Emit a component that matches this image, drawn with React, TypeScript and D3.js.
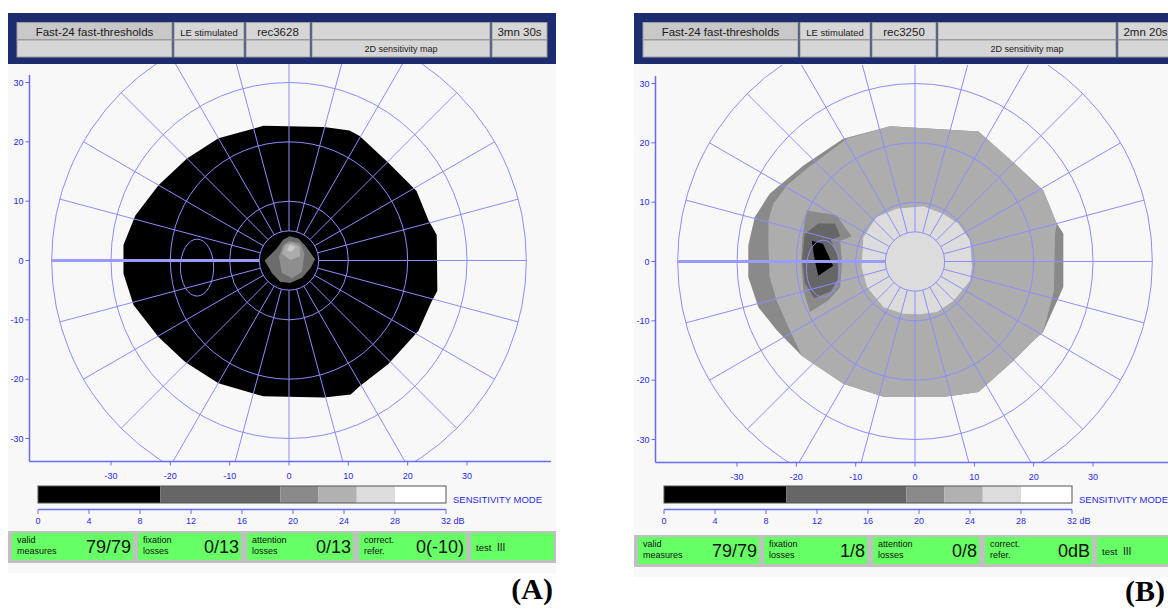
import React from 'react';
import * as d3 from 'd3';

const W = 1168;
const H = 609;

// grid / axes
const gridRadii = [5, 10, 20, 30, 40];
const axisTicks = [-30, -20, -10, 0, 10, 20, 30];
const dbTicks = [0, 4, 8, 12, 16, 20, 24, 28, 32];
const bandEdges = [0, 9.6, 19, 22, 25, 28, 32];
const bandColors = ['#000000', '#666666', '#8a8a8a', '#b1b1b1', '#dcdcdc', '#ffffff'];

// header + stats texts
const headerA = ['Fast-24 fast-thresholds', 'LE stimulated', 'rec3628', '', '3mn 30s'];
const headerB = ['Fast-24 fast-thresholds', 'LE stimulated', 'rec3250', '', '2mn 20s'];
const mapTitle = '2D sensitivity map';
const statLabels = [['valid', 'measures'], ['fixation', 'losses'], ['attention', 'losses'], ['correct.', 'refer.']];
const statsA = ['79/79', '0/13', '0/13', '0(-10)'];
const statsB = ['79/79', '1/8', '0/8', '0dB'];
const testSize = 'III';

// blind spot ellipse (deg)
const blindSpot = { cx: -15.5, cy: -1.2, rx: 2.8, ry: 4.8 };

// map A contours (deg)
const aBlack = [[-4.3, 22.7], [5.9, 22.5], [10.2, 21.9], [11.9, 21.0], [16.7, 16.5], [21.5, 11.7], [23.5, 6.8], [24.9, 4.3], [25.0, -5.1], [24.0, -7.0], [21.8, -11.9], [16.7, -17.5], [11.9, -21.2], [10.4, -22.6], [5.9, -23.1], [-4.3, -22.9], [-11.9, -20.7], [-17.5, -17.1], [-22.0, -12.9], [-26.2, -7.5], [-27.9, -2.2], [-27.9, 2.6], [-25.9, 7.6], [-22.0, 12.7], [-17.2, 17.2], [-11.9, 20.6]];
const aBlob1 = [[-4.1, 0], [-2.1, 2.0], [-1.0, 3.5], [0.1, 4.1], [1.6, 3.7], [2.9, 2.3], [4.4, 0.2], [3.6, -1.3], [2.2, -2.9], [0.2, -3.8], [-1.5, -3.6], [-2.9, -2.1]];
const aBlob2 = [[-1.7, 0.6], [-1.0, 2.6], [0.1, 3.3], [1.9, 2.9], [2.6, 1.2], [2.2, -1.9], [0.5, -3.0], [-1.2, -2.1]];
const aBlob3 = [[-1.2, 1.2], [-0.6, 2.6], [0.5, 3.0], [1.8, 2.3], [1.9, 0.7], [0.2, 0.1]];
const aBlob4 = [[-0.4, 1.7], [0.1, 2.6], [1.1, 2.3], [0.5, 1.5]];

// map B contours (deg)
const bOuter = [[-4.2, 22.8], [10.7, 21.9], [16.6, 16.7], [21.6, 12.0], [23.9, 6.4], [25.0, 4.7], [25.0, -4.3], [21.6, -11.9], [20, -13.3], [16.3, -17], [10.7, -22.0], [5, -22.8], [-5.3, -22.8], [-12.1, -20.6], [-19.1, -15.9], [-23.3, -11.6], [-26.4, -7.7], [-28.1, -2.6], [-28.1, 2.7], [-27.0, 7.5], [-24.5, 11.4], [-18.8, 16.2], [-12.1, 20.7]];
const bMain = [[-11.5, 20.7], [-4.2, 22.8], [10.7, 21.9], [16.6, 16.7], [21.6, 12.0], [23.9, 6.4], [23.6, 4.5], [23.4, -5.0], [21.6, -11.9], [20, -13.3], [16.3, -17], [10.7, -22.0], [5, -22.8], [-5.3, -22.8], [-12.1, -20.6], [-19.1, -15.9], [-21.6, -10.5], [-23.3, -6.6], [-24.5, -2.6], [-24.7, 2.4], [-24.7, 6.9], [-23.9, 9.7], [-21.6, 12.8], [-18.3, 15.6]];
const bCenter = [[-3.1, 8.9], [1.4, 9.3], [4.8, 8.0], [7.3, 6.4], [9.3, 3.5], [9.6, -1.0], [9.3, -3.2], [6.5, -6.6], [3.7, -8.5], [0.8, -8.9], [-2.0, -8.8], [-5.3, -7.7], [-8.1, -4.3], [-9.0, -1.0], [-8.7, 4.1], [-6.5, 7.5]];
const bBlind1 = [[-18.3, 8.6], [-13.2, 7.8], [-10.7, 4.2], [-12.6, 3.5], [-12.3, 0], [-12.6, -4.3], [-14.5, -6.5], [-17.7, -8.5], [-18.8, -5], [-19.2, 0], [-19, 4]];
const bBlind2 = [[-18.6, 4.6], [-16.3, 6.4], [-13.5, 6.4], [-12.6, 4.3], [-14.2, 3.6], [-13.0, 1.0], [-13.0, -3.0], [-14.2, -5.0], [-17.0, -6.2], [-18.6, -3.5], [-19.0, 0.5]];
const bBlack = [[-17.4, 3.5], [-15.5, 3.0], [-13.8, -0.7], [-16.3, -2.4], [-16.9, 0.2]];

const mapA = [
  { pts: aBlack, fill: bandColors[0] },
  { pts: aBlob1, fill: '#6c6c6c' },
  { pts: aBlob2, fill: '#8e8e8e' },
  { pts: aBlob3, fill: '#ababab' },
  { pts: aBlob4, fill: '#c9c9c9' },
];
const mapB = [
  { pts: bOuter, fill: bandColors[2] },
  { pts: bMain, fill: '#adadad' },
  { pts: bCenter, fill: bandColors[4] },
  { pts: bBlind1, fill: bandColors[2] },
  { pts: bBlind2, fill: bandColors[1] },
  { pts: bBlack, fill: bandColors[0] },
];

const GRID = '#8c8cff';
const AXIS = '#6a6af0';
const TXT = '#2a2ae6';
const SANS = 'Liberation Sans, Arial, sans-serif';

const headCols = [[17, 172], [174, 244], [246, 310], [312, 490], [492, 547]];
const statCols = [[12, 133], [138, 241], [247, 353], [359, 466], [471, 554]];

function Panel({ id, dx, dy, by, header, stats, map, label, labelX, labelY }) {
  const x = d3.scaleLinear().domain([-30, 30]).range([111 + dx, 467 + dx]);
  const y = d3.scaleLinear().domain([-30, 30]).range([438.5 + dy, 82.5 + dy]);
  const k = x(1) - x(0);
  const cx = x(0);
  const cy = y(0);
  const pol = (r, a) => [cx + k * r * Math.cos((a * Math.PI) / 180), cy - k * r * Math.sin((a * Math.PI) / 180)];
  const area = d3.line().x(d => x(d[0])).y(d => y(d[1])).curve(d3.curveLinearClosed);
  const db = d3.scaleLinear().domain([0, 32]).range([38 + dx, 446 + dx]);

  const spokes = d3.range(0, 360, 15).filter(a => a !== 180);
  const axisY = 461.5 + dy;
  const axisX = 29.5 + dx;

  return (
    <g>
      <defs>
        <clipPath id={`clip-${id}`}>
          <rect x={axisX + 0.5} y={64 + dy} width={522} height={axisY - 64 - dy} />
        </clipPath>
      </defs>
      {/* panel background */}
      <rect x={8 + dx} y={13} width={548} height={560 + by} fill="#f8f8f8" />
      {/* header */}
      <rect x={8 + dx} y={13} width={548} height={51} fill="#1c2c6e" />
      {[0, 1].map(row =>
        headCols.map((c, i) => (
          <rect
            key={`h${row}-${i}`}
            x={c[0] + dx}
            y={row ? 40 : 22.5}
            width={c[1] - c[0]}
            height={17}
            fill={row === 0 && i === 0 ? '#c8c8c8' : '#d6d6d6'}
            stroke="#9c9c9c"
          />
        ))
      )}
      {header.map((t, i) => (
        <text
          key={`ht${i}`}
          x={(headCols[i][0] + headCols[i][1]) / 2 + dx}
          y={35.5}
          textAnchor="middle"
          fontFamily={SANS}
          fontSize={i === 1 ? 9.5 : 11.5}
          fill="#1a1a1a"
        >
          {t}
        </text>
      ))}
      <text x={(headCols[3][0] + headCols[3][1]) / 2 + dx} y={52} textAnchor="middle" fontFamily={SANS} fontSize={9} fill="#1a1a1a">
        {mapTitle}
      </text>

      {/* sensitivity map */}
      <g clipPath={`url(#clip-${id})`}>
        {map.map((m, i) => (
          <path key={`m${i}`} d={area(m.pts)} fill={m.fill} />
        ))}
        {gridRadii.map(r => (
          <circle key={`c${r}`} cx={cx} cy={cy} r={k * r} fill="none" stroke={GRID} strokeWidth={1} />
        ))}
        {spokes.map(a => {
          const p0 = pol(5, a);
          const p1 = pol(40, a);
          return <line key={`s${a}`} x1={p0[0]} y1={p0[1]} x2={p1[0]} y2={p1[1]} stroke={GRID} strokeWidth={1} />;
        })}
        <line x1={pol(40, 180)[0]} y1={cy} x2={pol(5, 180)[0]} y2={cy} stroke="#9a9aff" strokeWidth={3} />
        <ellipse
          cx={x(blindSpot.cx)}
          cy={y(blindSpot.cy)}
          rx={k * blindSpot.rx}
          ry={k * blindSpot.ry}
          fill="none"
          stroke={GRID}
          strokeWidth={1}
        />
      </g>

      {/* axes */}
      <line x1={axisX} y1={75 + dy} x2={axisX} y2={axisY} stroke={AXIS} strokeWidth={1.5} />
      <line x1={axisX} y1={axisY} x2={551 + dx} y2={axisY} stroke={AXIS} strokeWidth={1.5} />
      {axisTicks.map(t => (
        <g key={`yt${t}`}>
          <line x1={axisX - 4} x2={axisX} y1={y(t)} y2={y(t)} stroke={AXIS} />
          <text x={axisX - 6} y={y(t) + 3} textAnchor="end" fontFamily={SANS} fontSize={9} fill={TXT}>
            {t}
          </text>
        </g>
      ))}
      {axisTicks.map(t => (
        <g key={`xt${t}`}>
          <line x1={x(t)} x2={x(t)} y1={axisY} y2={axisY + 4} stroke={AXIS} />
          <text x={x(t)} y={axisY + 17} textAnchor="middle" fontFamily={SANS} fontSize={9} fill={TXT}>
            {t}
          </text>
        </g>
      ))}

      {/* colour scale */}
      {bandColors.map((c, i) => (
        <rect
          key={`b${i}`}
          x={db(bandEdges[i])}
          y={486}
          width={db(bandEdges[i + 1]) - db(bandEdges[i])}
          height={17}
          fill={c}
        />
      ))}
      <rect x={db(0)} y={486} width={db(32) - db(0)} height={17} fill="none" stroke="#555" strokeWidth={1} />
      <text x={db(32) + 7} y={503} fontFamily={SANS} fontSize={9.5} fill={TXT}>
        SENSITIVITY MODE
      </text>
      <line x1={db(0)} x2={db(32)} y1={509.5} y2={509.5} stroke={AXIS} strokeWidth={1.5} />
      {dbTicks.map(t => (
        <g key={`db${t}`}>
          <line x1={db(t)} x2={db(t)} y1={509.5} y2={514} stroke={AXIS} />
          <text
            x={t === 32 ? db(t) - 5 : db(t)}
            y={524}
            textAnchor={t === 32 ? 'start' : 'middle'}
            fontFamily={SANS}
            fontSize={9}
            fill={TXT}
          >
            {t === 32 ? '32 dB' : t}
          </text>
        </g>
      ))}

      {/* status bar */}
      <rect x={8 + dx} y={531 + by} width={548} height={32} fill="#c0c0c0" />
      {statCols.map((c, i) => (
        <rect key={`g${i}`} x={c[0] + dx} y={533 + by} width={c[1] - c[0]} height={27} fill="#66ff66" />
      ))}
      {stats.map((s, i) => (
        <g key={`st${i}`}>
          <text x={statCols[i][0] + 5 + dx} y={542.5 + by} fontFamily={SANS} fontSize={9} fill="#111">
            {statLabels[i][0]}
          </text>
          <text x={statCols[i][0] + 5 + dx} y={554 + by} fontFamily={SANS} fontSize={9} fill="#111">
            {statLabels[i][1]}
          </text>
          <text x={statCols[i][1] - 2 + dx} y={553 + by} textAnchor="end" fontFamily={SANS} fontSize={18} fill="#111">
            {s}
          </text>
        </g>
      ))}
      <text x={statCols[4][0] + 5 + dx} y={551 + by} fontFamily={SANS} fontSize={9.5} fill="#111">
        {'test'}
      </text>
      <text x={statCols[4][0] + 26 + dx} y={551 + by} fontFamily={SANS} fontSize={10} fill="#111">
        {testSize}
      </text>

      <text
        x={labelX}
        y={labelY}
        textAnchor="end"
        fontFamily="Liberation Serif, serif"
        fontWeight="bold"
        fontSize={30}
        fill="#000"
      >
        {label}
      </text>
    </g>
  );
}

export default function App() {
  return (
    <div style={{ position: 'absolute', left: 0, top: 0 }}>
      <svg width={W} height={H} style={{ display: 'block', background: '#fff' }}>
        <Panel id="a" dx={0} dy={0} by={0} header={headerA} stats={statsA} map={mapA} label="(A)" labelX={553} labelY={599} />
        <Panel id="b" dx={626} dy={1} by={4} header={headerB} stats={statsB} map={mapB} label="(B)" labelX={1165} labelY={601} />
      </svg>
    </div>
  );
}
